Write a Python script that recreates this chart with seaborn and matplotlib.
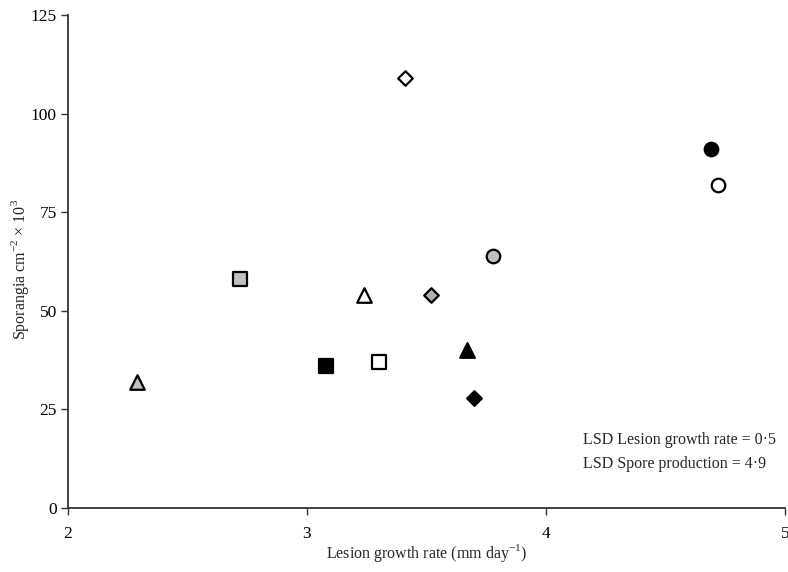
import pandas as pd
import matplotlib
matplotlib.use("Agg")
import matplotlib.pyplot as plt
import seaborn as sns

# data
growth_rate = [4.69, 4.72, 3.78, 3.41, 3.52, 3.70, 2.72, 3.08, 3.30, 3.24, 3.67, 2.29]
sporangia = [91, 82, 64, 109, 54, 28, 58, 36, 37, 54, 40, 32]
shape = ['o', 'o', 'o', 'D', 'D', 'D', 's', 's', 's', '^', '^', '^']
fill = ['black', 'white', 'silver', 'white', 'grey', 'black',
        'silver', 'black', 'white', 'white', 'black', 'silver']

df = pd.DataFrame({'x': growth_rate, 'y': sporangia, 'marker': shape, 'fill': fill})

sns.set_style("ticks")
plt.rcParams['font.family'] = ['Liberation Serif', 'DejaVu Serif']
plt.rcParams['mathtext.fontset'] = 'custom'
plt.rcParams['mathtext.rm'] = 'Liberation Serif'

fig = plt.figure(figsize=(7.88, 5.72), dpi=100)
ax = fig.add_axes([0.0863, 0.1119, 0.9097, 0.8619])

sizes = {'o': 95, 's': 95, '^': 110, 'D': 55}
fills = {'silver': '#c0c0c0', 'grey': '#b0b0b0', 'black': 'black', 'white': 'white'}
for _, row in df.iterrows():
    sns.scatterplot(x=[row['x']], y=[row['y']], marker=row['marker'],
                    color=fills[row['fill']], edgecolor='black', linewidth=1.6,
                    s=sizes[row['marker']], ax=ax, zorder=3, legend=False)

ax.set_xlim(2, 5)
ax.set_ylim(0, 125)
ax.set_xticks([2, 3, 4, 5])
ax.set_yticks([0, 25, 50, 75, 100, 125])
ax.tick_params(labelsize=12.5, length=5, width=1, colors='#333333', labelcolor='black')
ax.tick_params(axis='x', pad=8)
ax.tick_params(axis='y', pad=3)
for side in ['top', 'right']:
    ax.spines[side].set_visible(False)
for side in ['left', 'bottom']:
    ax.spines[side].set_color('#333333')
    ax.spines[side].set_linewidth(1.3)

ax.set_xlabel('Lesion growth rate (mm day$^{-1}$)', fontsize=11.5, va='center')
ax.set_ylabel('Sporangia cm$^{-2}$ × 10$^{3}$', fontsize=11.5, va='center')
ax.xaxis.set_label_coords(0.5, -0.091)
ax.yaxis.set_label_coords(-0.067, 0.483)

ax.text(0.718, 0.138, 'LSD Lesion growth rate = 0·5', transform=ax.transAxes,
        fontsize=11.5, va='center', ha='left')
ax.text(0.718, 0.089, 'LSD Spore production = 4·9', transform=ax.transAxes,
        fontsize=11.5, va='center', ha='left')

fig.savefig('out.png', dpi=100)
